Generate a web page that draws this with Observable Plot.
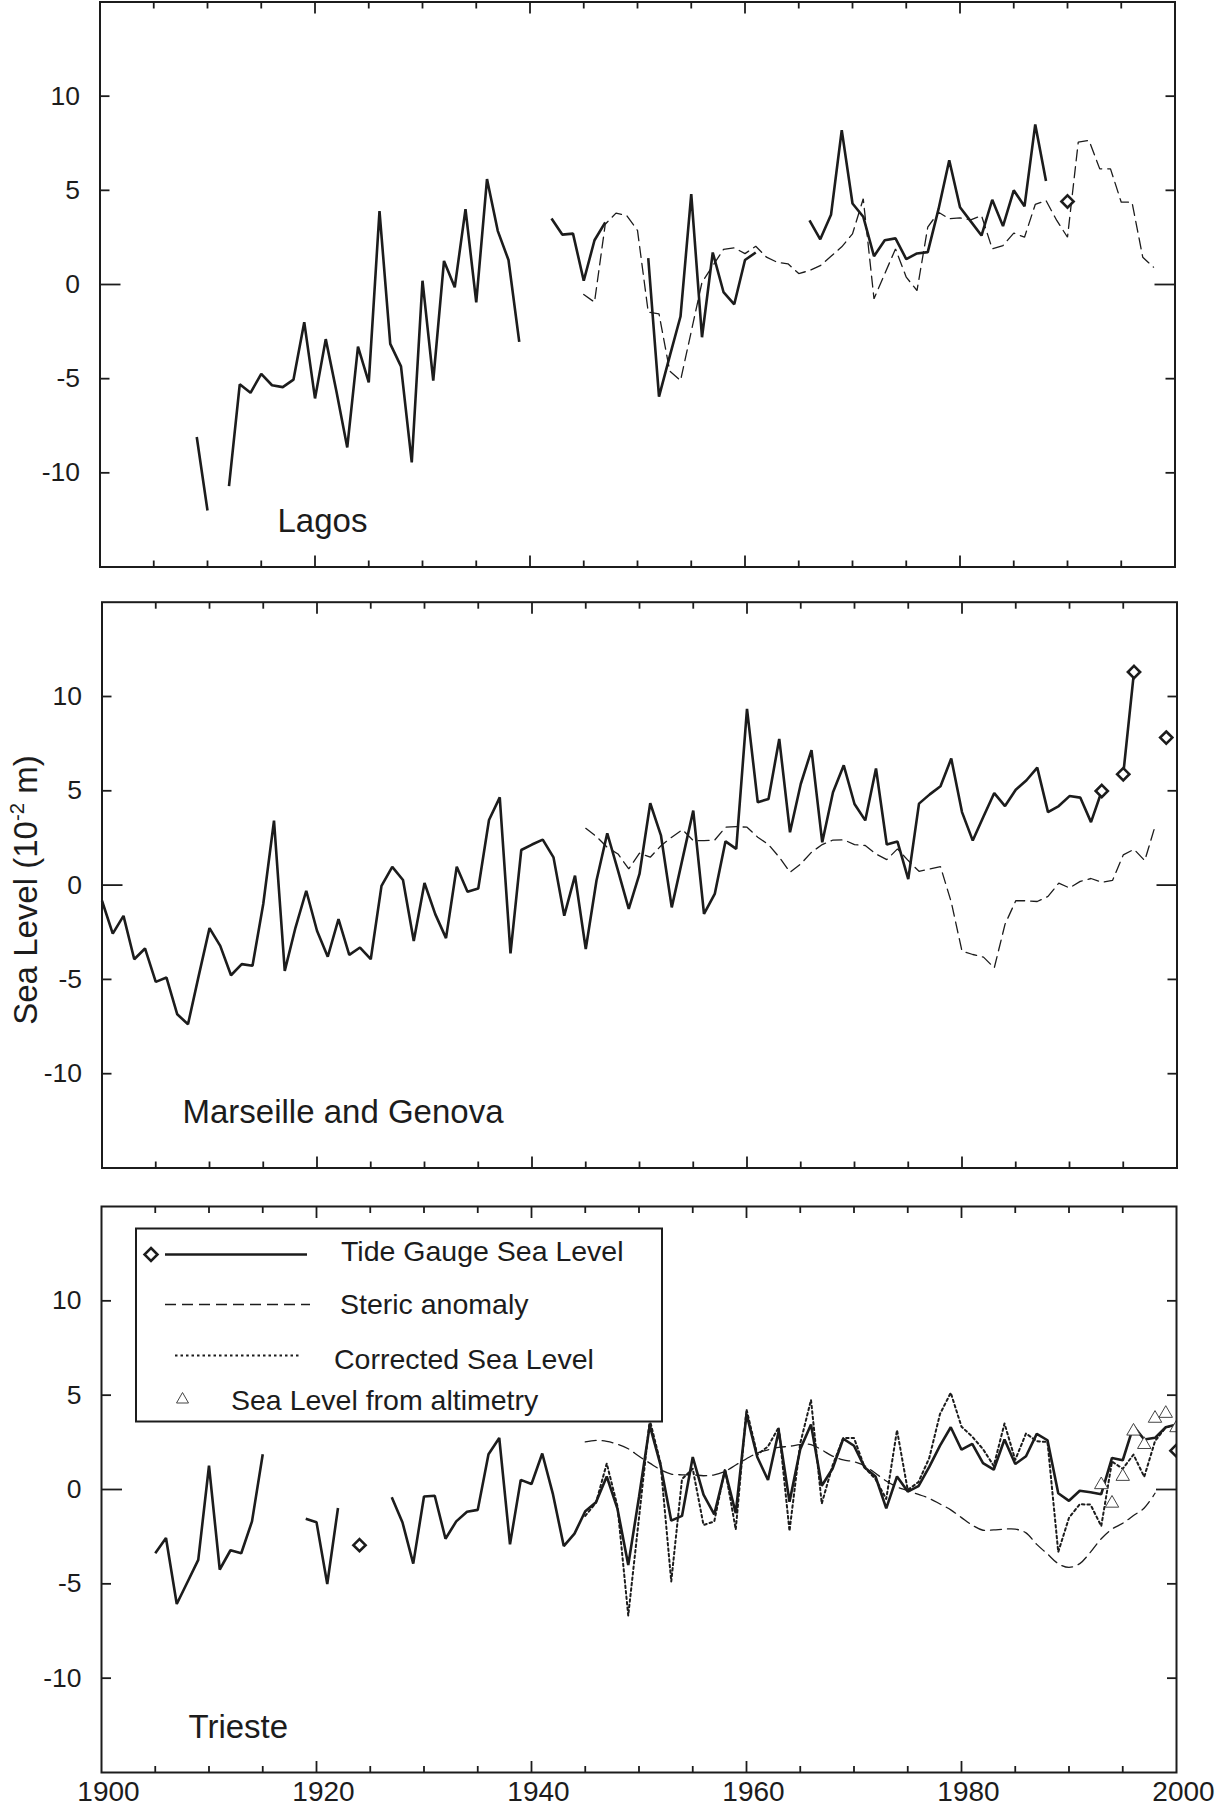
<!DOCTYPE html>
<html><head><meta charset="utf-8">
<script src="https://cdn.jsdelivr.net/npm/d3@7"></script>
<script src="https://cdn.jsdelivr.net/npm/@observablehq/plot@0.6"></script>
<style>
body{margin:0;background:#fff;}
#chart{position:relative;width:1217px;height:1803px;overflow:hidden;font-family:"Liberation Sans",Arial,Helvetica,sans-serif;background:#fff;}
#ylab{position:absolute;left:25px;top:890px;transform:translate(-50%,-50%) rotate(-90deg);white-space:nowrap;font-size:33px;color:#1c1c1c;line-height:1;}
#ylab sup{font-size:0.62em;vertical-align:0.62em;line-height:0;}
</style></head><body><div id="chart"><div id="ylab">Sea Level (10<sup>-2</sup> m)</div></div>
<script>
// ---------------- DATA ----------------
// Lagos
const lagosTideYears = d3.range(1909, 1989);
const lagosTide = [
  -8.1, -12.0, null, -10.7, -5.3, -5.75, -4.75, -5.35, -5.45, -5.05,
  -2.0, -6.05, -2.9, -5.7, -8.65, -3.3, -5.2, 3.9, -3.15, -4.35,
  -9.45, 0.2, -5.1, 1.25, -0.15, 4.0, -0.95, 5.6, 2.85, 1.3,
  -3.05, null, null, 3.5, 2.65, 2.7, 0.2, 2.35, 3.3, null,
  null, null, 1.4, -5.95, -3.8, -1.7, 4.8, -2.8, 1.7, -0.4,
  -1.05, 1.3, 1.7, null, null, null, null, 3.4, 2.4, 3.7,
  8.2, 4.3, 3.6, 1.5, 2.35, 2.45, 1.35, 1.65, 1.72, 4.0,
  6.6, 4.1, 3.35, 2.6, 4.5, 3.1, 5.0, 4.15, 8.5, 5.5
];
const lagosDiamondYears = [1990];
const lagosDiamonds = [4.41];
const lagosStericYears = d3.range(1945, 1999);
const lagosSteric = [
  -0.53, -0.94, 3.2, 3.79, 3.66, 2.87, -1.47, -1.56, -4.6, -5.1,
  -2.5, 0.12, 1.0, 1.86, 1.95, 1.64, 2.03, 1.45, 1.18, 1.1,
  0.58, 0.74, 1.0, 1.5, 2.0, 2.69, 4.55, -0.76, 0.57, 1.89,
  0.39, -0.32, 3.04, 3.84, 3.49, 3.54, 3.43, 3.66, 1.89, 2.07,
  2.73, 2.51, 4.25, 4.46, 3.4, 2.51, 7.56, 7.65, 6.14, 6.14,
  4.37, 4.37, 1.45, 0.92
];

// Marseille and Genova
const marTideYears = d3.range(1900, 2000);
const marTide = [
  -0.83, -2.57, -1.63, -3.93, -3.36, -5.13, -4.9, -6.85, -7.38, -4.8,
  -2.28, -3.22, -4.78, -4.19, -4.28, -1.0, 3.42, -4.55, -2.25, -0.3,
  -2.42, -3.8, -1.8, -3.7, -3.31, -3.93, -0.04, 0.97, 0.27, -2.96,
  0.11, -1.54, -2.81, 0.97, -0.35, -0.18, 3.45, 4.65, -3.62, 1.86,
  2.15, 2.41, 1.47, -1.62, 0.5, -3.39, 0.24, 2.75, 0.77, -1.26,
  0.59, 4.34, 2.62, -1.18, 1.39, 3.95, -1.53, -0.47, 2.32, 1.92,
  9.34, 4.39, 4.57, 7.75, 2.8, 5.36, 7.16, 2.27, 4.92, 6.35,
  4.3, 3.43, 6.18, 2.15, 2.31, 0.32, 4.32, 4.81, 5.24, 6.71,
  3.87, 2.36, 3.64, 4.88, 4.19, 5.06, 5.56, 6.23, 3.87, 4.19,
  4.72, 4.64, 3.34, 4.99, null, 5.88, 11.3, null, null, 7.82
];
const marDiamondYears = [1993, 1995, 1996, 1999];
const marDiamonds = [4.99, 5.88, 11.3, 7.82];
const marStericYears = d3.range(1945, 1999);
const marSteric = [
  3.01, 2.57, 2.0, 1.65, 0.86, 1.69, 1.48, 2.09, 2.54, 2.94,
  2.36, 2.36, 2.39, 3.07, 3.1, 3.07, 2.54, 2.15, 1.48, 0.68,
  1.12, 1.74, 2.15, 2.39, 2.4, 2.15, 2.1, 1.65, 1.35, 1.92,
  1.3, 0.73, 0.85, 0.98, -0.9, -3.5, -3.68, -3.82, -4.39, -2.08,
  -0.83, -0.83, -0.87, -0.6, 0.1, -0.15, 0.2, 0.35, 0.15, 0.25,
  1.6, 1.9, 1.3, 3.2
];

// Trieste
const triTideYears = d3.range(1905, 2001);
const triTide = [
  -3.38, -2.57, -6.07, -4.9, -3.73, 1.26, -4.24, -3.22, -3.38, -1.69,
  1.87, null, null, null, -1.55, -1.73, -5.01, -0.98, null, null,
  null, null, -0.41, -1.75, -3.93, -0.37, -0.33, -2.61, -1.69, -1.18,
  -1.08, 1.87, 2.73, -2.91, 0.51, 0.29, 1.91, -0.26, -3.0, -2.34,
  -1.15, -0.68, 0.69, -1.03, -4.0, -0.4, 3.4, 1.31, -1.65, -1.4,
  1.72, -0.27, -1.32, 1.0, -1.25, 4.0, 1.72, 0.5, 3.1, -0.65,
  2.14, 3.44, 0.2, 1.1, 2.69, 2.32, 1.16, 0.69, -1.0, 0.69,
  -0.11, 0.18, 1.2, 2.33, 3.3, 2.11, 2.42, 1.4, 1.05, 2.65,
  1.35, 1.76, 2.95, 2.61, -0.2, -0.6, -0.07, -0.15, -0.25, 1.67,
  1.55, 3.36, 2.65, 2.74, 3.3, 3.45
];
const triDiamondYears = [1924, 2000];
const triDiamonds = [-2.95, 2.06];
const triCorrYears = d3.range(1945, 2001);
const triCorr = [
  -1.4, -0.7, 1.38, -0.9, -6.68, -1.5, 3.7, 1.4, -4.87, 0.55,
  1.1, -1.88, -1.7, 1.1, -2.12, 4.25, 1.85, 2.28, 3.3, -2.2,
  2.45, 4.75, -0.75, 1.26, 2.73, 2.73, 1.16, 0.55, -0.5, 3.15,
  -0.03, 0.4, 1.67, 4.0, 5.13, 3.33, 2.8, 2.14, 1.25, 3.5,
  1.57, 2.97, 2.56, 2.52, -3.31, -1.5, -0.78, -0.8, -1.94, 1.48,
  1.1, 1.85, 0.67, 2.56, 3.3, 3.4
];
const triStericYears = d3.range(1945, 1999);
const triSteric = [
  2.52, 2.6, 2.55, 2.4, 2.16, 1.76, 1.4, 1.05, 0.82, 0.78,
  0.78, 0.73, 0.78, 0.96, 1.3, 1.63, 1.93, 2.1, 2.23, 2.29,
  2.38, 2.38, 2.1, 1.77, 1.57, 1.47, 1.26, 0.86, 0.45, 0.14,
  -0.06, -0.26, -0.47, -0.77, -1.08, -1.49, -1.89, -2.16, -2.14, -2.1,
  -2.1, -2.3, -2.91, -3.42, -3.93, -4.13, -3.93, -3.32, -2.61, -2.1,
  -1.79, -1.38, -0.98, -0.2
];
const triAltYears = [1993, 1994, 1995, 1996, 1997, 1998, 1999, 2000];
const triAlt = [0.25, -0.73, 0.69, 3.09, 2.38, 3.77, 4.03, 3.27];

// Axis ticks & labels
const xTicksMinor = [1905,1910,1915,1925,1930,1935,1945,1950,1955,1965,1970,1975,1985,1990,1995];
const xTicksMajor = [1920,1940,1960,1980];
const xTickLabels = [1900,1920,1940,1960,1980,2000];
const yTickLabels = [-10,-5,0,5,10];
const yTicksSide = [-10,-5,5,10];
const yTickZero = [0];
const panelNames = ["Lagos", "Marseille and Genova", "Trieste"];
const legendLabels = ["Tide Gauge Sea Level", "Steric anomaly", "Corrected Sea Level", "Sea Level from altimetry"];

// ---------------- DRAWING ----------------
const INK = "#1c1c1c";
const FONT = '"Liberation Sans", Arial, Helvetica, sans-serif';
const zip = (xs, ys) => xs.map((x, i) => ({year: x, value: ys[i]}));

function axesMarks(withXLabels) {
  const t = {fill: "none", stroke: INK, strokeWidth: 1.8, label: null};
  return [
    Plot.frame({stroke: INK, strokeWidth: 2}),
    Plot.axisX(xTicksMinor, {...t, anchor: "bottom", tickSize: 6, dy: -6}),
    Plot.axisX(xTicksMajor, {...t, anchor: "bottom", tickSize: 11, dy: -11}),
    Plot.axisX(xTicksMinor, {...t, anchor: "top", tickSize: 6, dy: 6}),
    Plot.axisX(xTicksMajor, {...t, anchor: "top", tickSize: 11, dy: 11}),
    Plot.axisY(yTicksSide, {...t, anchor: "left", tickSize: 10, dx: 10}),
    Plot.axisY(yTickZero, {...t, anchor: "left", tickSize: 21, dx: 21}),
    Plot.axisY(yTicksSide, {...t, anchor: "right", tickSize: 10, dx: -10}),
    Plot.axisY(yTickZero, {...t, anchor: "right", tickSize: 21, dx: -21}),
    Plot.axisY(yTickLabels, {anchor: "left", tickSize: 0, tickPadding: 20, fontSize: 26.5, fill: INK, label: null, tickFormat: d => String(d)}),
    withXLabels ? Plot.axisX(xTickLabels, {anchor: "bottom", tickSize: 0, tickPadding: 8.5, dx: 7, fontSize: 28, fill: INK, label: null, tickFormat: d => String(d)}) : null
  ];
}

const solid = (data) => Plot.line(data, {x: "year", y: "value", stroke: INK, strokeWidth: 2.6, strokeLinejoin: "miter", strokeLinecap: "butt"});
const dashed = (data) => Plot.line(data, {x: "year", y: "value", stroke: INK, strokeWidth: 1.3, strokeDasharray: "11,6", strokeLinejoin: "miter"});
const dotted = (data) => Plot.line(data, {x: "year", y: "value", stroke: INK, strokeWidth: 2, strokeDasharray: "2.5,3"});
const diamonds = (data) => Plot.dot(data, {x: "year", y: "value", symbol: "diamond2", r: 5.5, stroke: INK, strokeWidth: 2.6, fill: "white", clip: true});
const triangles = (data) => Plot.dot(data, {x: "year", y: "value", symbol: "triangle", r: 5, stroke: "#444", strokeWidth: 1, fill: "white", clip: true});
const panelLabel = (name, dx, dy) => Plot.text([name], {text: d => d, frameAnchor: "bottom-left", dx, dy, textAnchor: "start", lineAnchor: "top", fontSize: 33, fill: INK});

function makePanel(cfg) {
  return Plot.plot({
    width: 1217, height: cfg.height,
    marginTop: cfg.mt, marginBottom: cfg.mb, marginLeft: cfg.ml, marginRight: cfg.mr,
    x: {domain: [1900, 2000]},
    y: {domain: [-15, 15]},
    style: {fontFamily: FONT, background: "white", overflow: "visible"},
    marks: [...cfg.marks, ...axesMarks(cfg.xLabels)]
  });
}

const chart = document.getElementById("chart");
function place(el, top) {
  const d = document.createElement("div");
  d.style.cssText = `position:absolute;left:0;top:${top}px;`;
  d.appendChild(el);
  chart.insertBefore(d, document.getElementById("ylab"));
  return el;
}

const p1 = makePanel({height: 584, mt: 1.5, mb: 17.5, ml: 99.5, mr: 42.5, xLabels: false, marks: [
  dashed(zip(lagosStericYears, lagosSteric)),
  solid(zip(lagosTideYears, lagosTide)),
  diamonds(zip(lagosDiamondYears, lagosDiamonds)),
  panelLabel(panelNames[0], 177.5, -58)
]});
place(p1, 0);

const p2 = makePanel({height: 601.5, mt: 17.7, mb: 18, ml: 101.5, mr: 40.5, xLabels: false, marks: [
  dashed(zip(marStericYears, marSteric)),
  solid(zip(marTideYears, marTide)),
  diamonds(zip(marDiamondYears, marDiamonds)),
  panelLabel(panelNames[1], 80.5, -68)
]});
place(p2, 584);

const p3 = makePanel({height: 617.5, mt: 20, mb: 31.5, ml: 101, mr: 41, xLabels: true, marks: [
  Plot.line(zip(triStericYears, triSteric), {x: "year", y: "value", stroke: INK, strokeWidth: 1.3, strokeDasharray: "11,6", curve: "catmull-rom"}),
  dotted(zip(triCorrYears, triCorr)),
  solid(zip(triTideYears, triTide)),
  triangles(zip(triAltYears, triAlt)),
  diamonds(zip(triDiamondYears, triDiamonds)),
  panelLabel(panelNames[2], 87, -58)
]});
place(p3, 1185.5);

// Legend box inside the Trieste panel
const lg = d3.select(p3).append("g").attr("text-anchor", "start");
lg.append("rect").attr("x", 136).attr("y", 42.5).attr("width", 526).attr("height", 193)
  .attr("fill", "white").attr("stroke", INK).attr("stroke-width", 2);
lg.append("path").attr("d", "M151,62 L157.5,68.5 L151,75 L144.5,68.5 Z")
  .attr("fill", "white").attr("stroke", INK).attr("stroke-width", 2.5);
lg.append("line").attr("x1", 165).attr("x2", 307).attr("y1", 68.5).attr("y2", 68.5)
  .attr("stroke", INK).attr("stroke-width", 2.6);
lg.append("line").attr("x1", 165).attr("x2", 310).attr("y1", 118.5).attr("y2", 118.5)
  .attr("stroke", INK).attr("stroke-width", 1.3).attr("stroke-dasharray", "11,6");
lg.append("line").attr("x1", 175).attr("x2", 300).attr("y1", 169.5).attr("y2", 169.5)
  .attr("stroke", INK).attr("stroke-width", 2).attr("stroke-dasharray", "2.5,3");
lg.append("path").attr("d", "M182.5,206.5 L188.5,217 L176.5,217 Z")
  .attr("fill", "white").attr("stroke", "#444").attr("stroke-width", 1);
const legPos = [[341, 75], [340, 127.5], [334, 182.5], [231, 223.5]];
legendLabels.forEach((t, i) => {
  lg.append("text").attr("x", legPos[i][0]).attr("y", legPos[i][1]).attr("text-anchor", "start")
    .attr("font-size", 28.5).attr("font-family", FONT).attr("fill", INK).text(t);
});
</script>
</body></html>
